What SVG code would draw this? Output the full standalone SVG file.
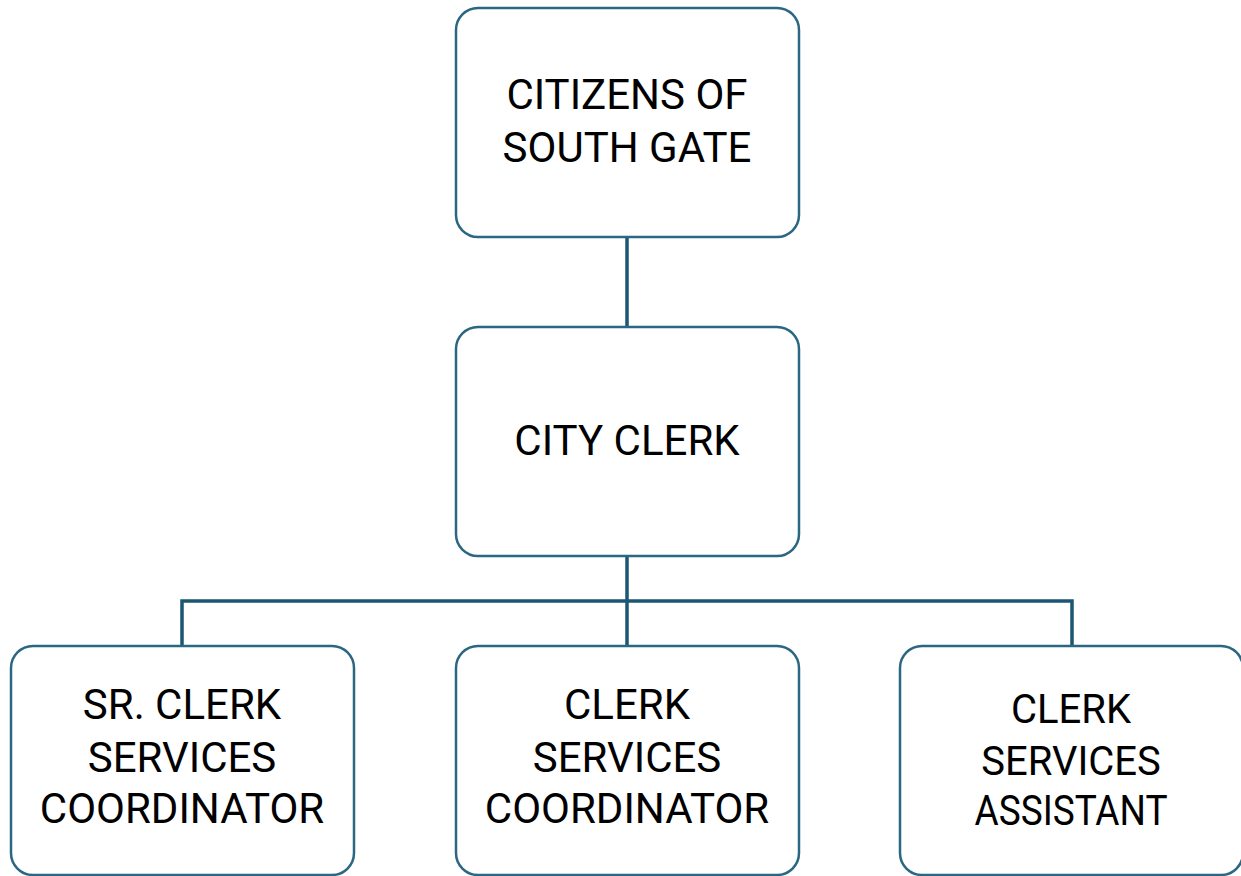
<svg xmlns="http://www.w3.org/2000/svg" width="1241" height="876" viewBox="0 0 1241 876">
<style>
.box{fill:#fff;stroke:#2b6783;stroke-width:2.5}
.lbl{font-family:Roboto,"Liberation Sans",sans-serif;font-size:42px;fill:#000;text-anchor:middle}
.sm{font-size:40px}
.conn{fill:none;stroke:#1b5673;stroke-width:3.5}
</style>
<rect width="1241" height="876" fill="#fff"/>
<g id="connectors">
<line class="conn" x1="627" y1="237" x2="627" y2="326"/>
<line class="conn" x1="627" y1="557" x2="627" y2="646"/>
<polyline class="conn" points="182,646 182,601 1072,601 1072,646"/>
</g>
<g id="citizens">
<rect class="box" x="456" y="8" width="343" height="229" rx="22"/>
<text class="lbl" x="627" y="109">CITIZENS OF</text>
<text class="lbl" x="627" y="162">SOUTH GATE</text>
</g>
<g id="city-clerk">
<rect class="box" x="456" y="327" width="343" height="229" rx="22"/>
<text class="lbl" x="627" y="455">CITY CLERK</text>
</g>
<g id="sr-clerk">
<rect class="box" x="11" y="646" width="343" height="229" rx="22"/>
<text class="lbl" x="182" y="719">SR. CLERK</text>
<text class="lbl" x="182" y="772">SERVICES</text>
<text class="lbl" x="182" y="823">COORDINATOR</text>
</g>
<g id="clerk-coord">
<rect class="box" x="456" y="646" width="343" height="229" rx="22"/>
<text class="lbl" x="627" y="719">CLERK</text>
<text class="lbl" x="627" y="772">SERVICES</text>
<text class="lbl" x="627" y="823">COORDINATOR</text>
</g>
<g id="clerk-assistant">
<rect class="box" x="900" y="646" width="343" height="229" rx="22"/>
<text class="lbl sm" x="1071" y="723">CLERK</text>
<text class="lbl sm" x="1071" y="775">SERVICES</text>
<text class="lbl" x="1071" y="825" textLength="193" lengthAdjust="spacingAndGlyphs">ASSISTANT</text>
</g>
</svg>
